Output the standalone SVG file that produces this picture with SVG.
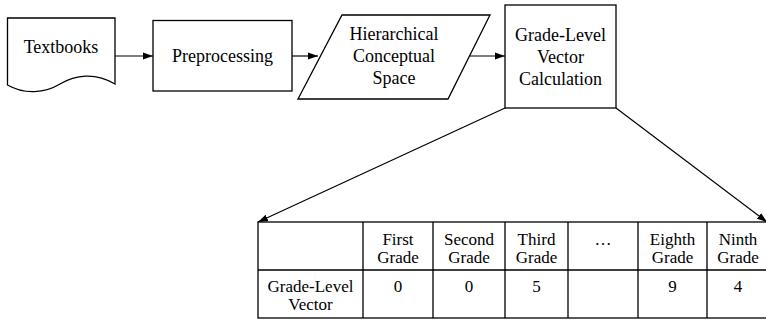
<svg xmlns="http://www.w3.org/2000/svg" width="766" height="322" viewBox="0 0 766 322">
  <style>
    .shape { fill: #ffffff; stroke: #000000; stroke-width: 1.3; }
    .edge { fill: none; stroke: #000000; stroke-width: 1.2; }
    .grid { fill: none; stroke: #000000; stroke-width: 1.3; }
    text { font-family: "Liberation Serif", "Times New Roman", serif; fill: #000000; text-anchor: middle; }
    .lbl { font-size: 18px; }
    .cell { font-size: 17px; }
  </style>
  <defs>
    <marker id="arrow" viewBox="0 0 10 10" refX="10" refY="5" markerWidth="10" markerHeight="10" markerUnits="userSpaceOnUse" orient="auto">
      <path d="M0,1.5 L10,5 L0,8.5 Z" fill="#000000"/>
    </marker>
  </defs>

  <rect width="766" height="322" fill="#ffffff"/>

  <g id="connectors">
    <line class="edge" x1="115" y1="56" x2="153" y2="56" marker-end="url(#arrow)"/>
    <line class="edge" x1="292" y1="56" x2="318" y2="56" marker-end="url(#arrow)"/>
    <line class="edge" x1="470" y1="56" x2="505" y2="56" marker-end="url(#arrow)"/>
    <line class="edge" x1="505" y1="108" x2="258" y2="222" marker-end="url(#arrow)"/>
    <line class="edge" x1="616" y1="108" x2="767" y2="222" marker-end="url(#arrow)"/>
  </g>

  <g id="textbooks">
    <path class="shape" d="M7.5,18 H115 V84 C95,72 75,75 60,84 C45,93 25,95 7.5,85 Z"/>
    <text class="lbl" x="61" y="53">Textbooks</text>
  </g>

  <g id="preprocessing">
    <rect class="shape" x="153" y="20.5" width="139" height="70.5"/>
    <text class="lbl" x="222.5" y="62">Preprocessing</text>
  </g>

  <g id="conceptual-space">
    <polygon class="shape" points="342,15 490,15 448,99 298,99"/>
    <text class="lbl" x="394" y="40">Hierarchical</text>
    <text class="lbl" x="394" y="62">Conceptual</text>
    <text class="lbl" x="394" y="84">Space</text>
  </g>

  <g id="vector-calculation">
    <rect class="shape" x="505" y="5" width="111" height="103"/>
    <text class="lbl" x="560.5" y="41">Grade-Level</text>
    <text class="lbl" x="560.5" y="63">Vector</text>
    <text class="lbl" x="560.5" y="85">Calculation</text>
  </g>

  <g id="grade-table">
    <rect class="shape" x="258" y="222" width="510" height="96"/>
    <path class="grid" d="M258,270 H768 M363,222 V318 M433,222 V318 M505,222 V318 M568,222 V318 M638,222 V318 M707,222 V318"/>
    <text class="cell" x="398" y="245">First</text>
    <text class="cell" x="398" y="263">Grade</text>
    <text class="cell" x="469" y="245">Second</text>
    <text class="cell" x="469" y="263">Grade</text>
    <text class="cell" x="536.5" y="245">Third</text>
    <text class="cell" x="536.5" y="263">Grade</text>
    <text class="cell" x="603" y="245">…</text>
    <text class="cell" x="672.5" y="245">Eighth</text>
    <text class="cell" x="672.5" y="263">Grade</text>
    <text class="cell" x="738" y="245">Ninth</text>
    <text class="cell" x="738" y="263">Grade</text>
    <text class="cell" x="310.5" y="292">Grade-Level</text>
    <text class="cell" x="310.5" y="310">Vector</text>
    <text class="cell" x="398" y="292">0</text>
    <text class="cell" x="469" y="292">0</text>
    <text class="cell" x="536.5" y="292">5</text>
    <text class="cell" x="672.5" y="292">9</text>
    <text class="cell" x="738" y="292">4</text>
  </g>
</svg>
